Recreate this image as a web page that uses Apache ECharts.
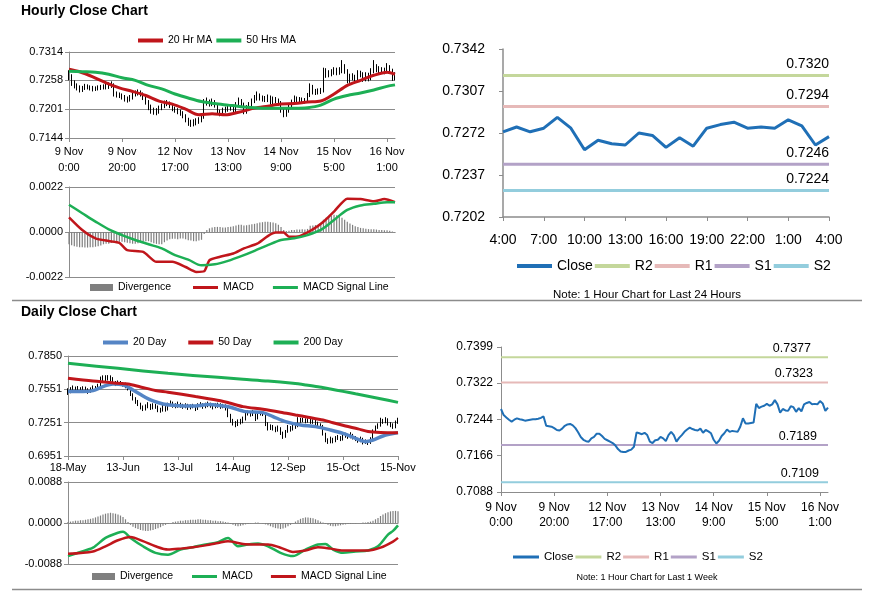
<!DOCTYPE html>
<html><head><meta charset="utf-8">
<script src="https://cdn.jsdelivr.net/npm/echarts@6/dist/echarts.min.js"></script>
<style>html,body{margin:0;padding:0;background:#fff}#c{width:873px;height:601px}</style>
</head><body><div id="c"></div>
<script>
// ---------------- DATA ----------------
// Hourly (1 week) data: 9 Nov 0:00 .. 16 Nov 4:00
const hourTickLabels = ['9 Nov\n0:00','9 Nov\n20:00','12 Nov\n17:00','13 Nov\n13:00','14 Nov\n9:00','15 Nov\n5:00','16 Nov\n1:00'];
const last24Labels = ['4:00','5:00','6:00','7:00','8:00','9:00','10:00','11:00','12:00','13:00','14:00','15:00','16:00','17:00','18:00','19:00','20:00','21:00','22:00','23:00','0:00','1:00','2:00','3:00','4:00'];
const hourlyFirstOpen = 0.7270;
const hourlyClose = [0.7266,0.7253,0.7248,0.7243,0.7239,0.7243,0.7246,0.7244,0.7243,0.7241,
0.7242,0.7243,0.7244,0.7244,0.7245,0.7247,0.7250,0.7230,0.7229,0.7228,
0.7225,0.7221,0.7220,0.7224,0.7230,0.7233,0.7234,0.7231,0.7225,0.7216,
0.7206,0.7200,0.7197,0.7196,0.7203,0.7206,0.7213,0.7213,0.7208,0.7202,
0.7199,0.7196,0.7193,0.7188,0.7180,0.7175,0.7174,0.7174,0.7177,0.7179,
0.7185,0.7216,0.7214,0.7212,0.7215,0.7210,0.7196,0.7193,0.7199,0.7200,
0.7206,0.7203,0.7197,0.7210,0.7217,0.7210,0.7196,0.7204,0.7210,0.7217,
0.7222,0.7226,0.7223,0.7221,0.7220,0.7224,0.7215,0.7221,0.7218,0.7214,
0.7200,0.7192,0.7198,0.7208,0.7214,0.7222,0.7217,0.7219,0.7218,0.7217,
0.7228,0.7246,0.7235,0.7235,0.7236,0.7237,0.7277,0.7268,0.7271,0.7273,
0.7277,0.7273,0.7276,0.7285,0.7276,0.7258,0.7266,0.7263,0.7262,0.7272,
0.7270,0.7260,0.7268,0.7261,0.7276,0.7279,0.7281,0.7276,0.7277,0.7276,
0.7283,0.7278,0.7262,0.7269];
const hourlyHigh = [0.7278,0.7270,0.7258,0.7252,0.7248,0.7247,0.7251,0.7250,0.7248,0.7247,
0.7246,0.7248,0.7249,0.7250,0.7251,0.7254,0.7256,0.7252,0.7236,0.7234,
0.7232,0.7229,0.7226,0.7229,0.7235,0.7238,0.7240,0.7238,0.7234,0.7228,
0.7219,0.7210,0.7204,0.7203,0.7208,0.7212,0.7218,0.7219,0.7216,0.7211,
0.7206,0.7203,0.7200,0.7197,0.7191,0.7184,0.7180,0.7181,0.7183,0.7185,
0.7190,0.7221,0.7224,0.7220,0.7222,0.7219,0.7213,0.7200,0.7204,0.7206,
0.7211,0.7210,0.7207,0.7215,0.7224,0.7221,0.7214,0.7209,0.7215,0.7222,
0.7229,0.7236,0.7232,0.7228,0.7227,0.7230,0.7228,0.7226,0.7225,0.7222,
0.7217,0.7204,0.7203,0.7213,0.7220,0.7228,0.7226,0.7225,0.7224,0.7223,
0.7233,0.7252,0.7249,0.7241,0.7242,0.7243,0.7283,0.7282,0.7278,0.7280,
0.7284,0.7283,0.7284,0.7298,0.7290,0.7280,0.7271,0.7272,0.7269,0.7278,
0.7277,0.7274,0.7274,0.7273,0.7282,0.7298,0.7290,0.7286,0.7284,0.7283,
0.7292,0.7288,0.7281,0.7274];
const hourlyLow = [0.7258,0.7247,0.7242,0.7238,0.7234,0.7235,0.7239,0.7240,0.7238,0.7236,
0.7237,0.7238,0.7239,0.7240,0.7240,0.7241,0.7243,0.7226,0.7224,0.7223,
0.7220,0.7216,0.7214,0.7216,0.7220,0.7226,0.7228,0.7226,0.7219,0.7210,
0.7199,0.7192,0.7190,0.7189,0.7192,0.7199,0.7203,0.7207,0.7203,0.7197,
0.7194,0.7191,0.7188,0.7183,0.7175,0.7168,0.7166,0.7167,0.7169,0.7172,
0.7175,0.7182,0.7208,0.7206,0.7207,0.7204,0.7191,0.7187,0.7189,0.7194,
0.7196,0.7198,0.7192,0.7194,0.7206,0.7205,0.7191,0.7192,0.7200,0.7206,
0.7213,0.7218,0.7218,0.7216,0.7215,0.7215,0.7210,0.7211,0.7213,0.7208,
0.7194,0.7185,0.7186,0.7194,0.7204,0.7210,0.7212,0.7213,0.7213,0.7212,
0.7214,0.7225,0.7230,0.7229,0.7230,0.7231,0.7234,0.7263,0.7264,0.7266,
0.7269,0.7268,0.7269,0.7272,0.7271,0.7252,0.7253,0.7258,0.7256,0.7258,
0.7264,0.7255,0.7256,0.7256,0.7258,0.7272,0.7274,0.7271,0.7271,0.7270,
0.7272,0.7272,0.7257,0.7258];
// [hour index, value]
const hourlyMA20 = [[0,0.7280],[4,0.7275],[9,0.7265],[14,0.7253],[19,0.7243],[24,0.7236],[29,0.7228],[34,0.7217],[39,0.7211],[44,0.7201],[49,0.7190],[54,0.7192],[59,0.7190],[64,0.7195],[70,0.7203],[75,0.7207],[80,0.7211],[85,0.7212],[90,0.7215],[95,0.7217],[100,0.7231],[105,0.7248],[110,0.7258],[115,0.7268],[120,0.7274],[123,0.7270]];
const hourlyMA50 = [[0,0.7276],[5,0.7275],[10,0.7274],[15,0.7270],[20,0.7263],[25,0.7258],[30,0.7248],[35,0.7241],[40,0.7231],[45,0.7223],[50,0.7216],[55,0.7212],[60,0.7209],[65,0.7206],[70,0.7204],[75,0.7203],[80,0.7203],[85,0.7203],[90,0.7204],[95,0.7209],[100,0.7221],[105,0.7228],[110,0.7233],[115,0.7239],[120,0.7246],[123,0.7249]];
const hourlyMACD = [[0,0.00072],[5,0.00010],[10,-0.00031],[15,-0.00044],[19,-0.00053],[22,-0.00089],[28,-0.00097],[33,-0.00146],[39,-0.00146],[44,-0.00171],[48,-0.00195],[51,-0.00192],[53,-0.00138],[57,-0.00121],[62,-0.00105],[66,-0.00080],[71,-0.00057],[75,-0.00020],[78,-0.00003],[81,-0.00003],[83,-0.00023],[87,-0.00020],[92,0.00013],[96,0.00050],[100,0.00100],[105,0.00163],[110,0.00161],[115,0.00150],[119,0.00161],[123,0.00146]];
const hourlySignal = [[0,0.00133],[5,0.00092],[10,0.00051],[15,0.00013],[20,-0.00015],[25,-0.00039],[30,-0.00060],[35,-0.00080],[40,-0.00113],[45,-0.00135],[50,-0.00163],[55,-0.00158],[60,-0.00141],[65,-0.00118],[70,-0.00092],[75,-0.00064],[80,-0.00039],[85,-0.00031],[90,-0.00015],[95,0.00010],[100,0.00059],[105,0.00108],[110,0.00130],[115,0.00138],[120,0.00146],[123,0.00146]];
const hourlyDiv = [-0.0006,-0.00065,-0.0007,-0.00072,-0.00074,-0.00075,-0.00076,-0.00076,-0.00075,-0.00074,
-0.00072,-0.0007,-0.00066,-0.0006,-0.00058,-0.00057,-0.00053,-0.0005,-0.0005,-0.00048,
-0.00048,-0.0005,-0.00053,-0.00055,-0.00057,-0.00058,-0.00055,-0.0005,-0.00046,-0.00045,
-0.00045,-0.0005,-0.00055,-0.00058,-0.0006,-0.0006,-0.0005,-0.00042,-0.00035,-0.00033,
-0.00033,-0.00035,-0.00032,-0.00032,-0.00035,-0.0004,-0.00042,-0.00045,-0.00045,-0.00042,
-0.00038,-0.0001,0.0001,0.00018,0.00022,0.00025,0.00025,0.00024,0.00022,0.00022,
0.00025,0.00026,0.00028,0.00032,0.00035,0.00036,0.00032,0.00033,0.00036,0.00038,
0.0004,0.00043,0.00046,0.00048,0.0005,0.0005,0.00048,0.00046,0.00043,0.00035,
0.00025,0.0001,0.00005,0.00006,0.0001,0.0001,0.00012,0.00012,0.00013,0.00012,
0.00015,0.0003,0.00032,0.00034,0.00036,0.00038,0.0006,0.0007,0.00078,0.0008,
0.00084,0.00082,0.00077,0.0007,0.0006,0.0005,0.00042,0.00035,0.00028,0.00025,
0.0002,0.00018,0.00016,0.00014,0.00014,0.00013,0.00012,0.0001,0.0001,0.00009,
0.00008,0.00006,0.00002,-0.00002];
const last24Close = [0.7273,0.7277,0.7273,0.7276,0.7285,0.7276,0.7258,0.7266,0.7263,0.7262,0.7272,0.7270,0.7260,0.7268,0.7261,0.7276,0.7279,0.7281,0.7276,0.7277,0.7276,0.7283,0.7278,0.7262,0.7269];
const levels24 = {R2:0.7320, R1:0.7294, S1:0.7246, S2:0.7224};
const levelsWeek = {R2:0.7377, R1:0.7323, S1:0.7189, S2:0.7109};

// Daily data: 18 May .. 15 Nov
const dayTickLabels = ['18-May','13-Jun','13-Jul','14-Aug','12-Sep','15-Oct','15-Nov'];
const dailyFirstOpen = 0.7540;
const dailyClose = [0.7525,0.7548,0.7560,0.7545,0.7552,0.7538,0.7555,0.7548,0.7530,0.7545,
0.7560,0.7552,0.7575,0.7640,0.7655,0.7645,0.7660,0.7650,0.7605,0.7598,
0.7610,0.7595,0.7592,0.7580,0.7560,0.7505,0.7470,0.7440,0.7420,0.7385,
0.7375,0.7395,0.7410,0.7380,0.7405,0.7395,0.7365,0.7360,0.7390,0.7370,
0.7410,0.7425,0.7405,0.7398,0.7415,0.7402,0.7398,0.7405,0.7388,0.7395,
0.7400,0.7378,0.7402,0.7410,0.7395,0.7405,0.7415,0.7400,0.7392,0.7402,
0.7408,0.7395,0.7400,0.7380,0.7320,0.7270,0.7245,0.7230,0.7260,0.7255,
0.7280,0.7330,0.7340,0.7325,0.7345,0.7290,0.7330,0.7338,0.7330,0.7240,
0.7195,0.7215,0.7200,0.7185,0.7205,0.7160,0.7130,0.7170,0.7210,0.7190,
0.7225,0.7215,0.7280,0.7265,0.7275,0.7262,0.7270,0.7255,0.7265,0.7245,
0.7230,0.7225,0.7150,0.7095,0.7080,0.7105,0.7085,0.7110,0.7120,0.7100,
0.7130,0.7140,0.7125,0.7145,0.7120,0.7105,0.7090,0.7110,0.7075,0.7085,
0.7070,0.7100,0.7175,0.7205,0.7225,0.7270,0.7255,0.7280,0.7240,0.7230,
0.7210,0.7250,0.7275];
const dailyHigh = [0.7560,0.7570,0.7585,0.7575,0.7580,0.7570,0.7578,0.7575,0.7560,0.7568,
0.7585,0.7580,0.7600,0.7665,0.7676,0.7677,0.7678,0.7676,0.7660,0.7625,
0.7630,0.7625,0.7615,0.7610,0.7590,0.7565,0.7515,0.7480,0.7455,0.7430,
0.7405,0.7415,0.7435,0.7420,0.7425,0.7420,0.7405,0.7385,0.7410,0.7400,
0.7430,0.7450,0.7440,0.7425,0.7440,0.7430,0.7420,0.7425,0.7420,0.7415,
0.7420,0.7410,0.7425,0.7435,0.7425,0.7430,0.7440,0.7430,0.7420,0.7425,
0.7430,0.7425,0.7420,0.7415,0.7390,0.7330,0.7285,0.7265,0.7280,0.7285,
0.7305,0.7350,0.7360,0.7355,0.7365,0.7355,0.7345,0.7355,0.7350,0.7335,
0.7255,0.7235,0.7230,0.7215,0.7225,0.7210,0.7170,0.7185,0.7230,0.7220,
0.7240,0.7240,0.7300,0.7295,0.7295,0.7290,0.7290,0.7285,0.7280,0.7275,
0.7260,0.7245,0.7230,0.7160,0.7110,0.7125,0.7115,0.7130,0.7140,0.7130,
0.7150,0.7160,0.7150,0.7165,0.7150,0.7130,0.7115,0.7125,0.7115,0.7100,
0.7095,0.7120,0.7190,0.7225,0.7245,0.7295,0.7285,0.7300,0.7290,0.7255,
0.7245,0.7270,0.7295];
const dailyLow = [0.7500,0.7515,0.7535,0.7530,0.7530,0.7520,0.7525,0.7530,0.7510,0.7520,
0.7535,0.7535,0.7545,0.7570,0.7625,0.7625,0.7630,0.7620,0.7590,0.7580,
0.7585,0.7580,0.7575,0.7560,0.7540,0.7490,0.7450,0.7420,0.7400,0.7370,
0.7355,0.7360,0.7380,0.7365,0.7370,0.7375,0.7345,0.7340,0.7350,0.7350,
0.7360,0.7400,0.7385,0.7380,0.7385,0.7385,0.7375,0.7380,0.7365,0.7370,
0.7380,0.7355,0.7365,0.7390,0.7375,0.7380,0.7390,0.7385,0.7370,0.7380,
0.7385,0.7375,0.7380,0.7360,0.7300,0.7250,0.7225,0.7210,0.7220,0.7235,
0.7245,0.7270,0.7315,0.7305,0.7310,0.7265,0.7280,0.7315,0.7310,0.7220,
0.7180,0.7185,0.7180,0.7165,0.7170,0.7140,0.7105,0.7115,0.7160,0.7170,
0.7180,0.7195,0.7210,0.7250,0.7255,0.7245,0.7250,0.7240,0.7240,0.7230,
0.7215,0.7205,0.7135,0.7075,0.7060,0.7065,0.7065,0.7075,0.7095,0.7085,
0.7090,0.7115,0.7105,0.7110,0.7100,0.7085,0.7070,0.7075,0.7055,0.7060,
0.7050,0.7060,0.7090,0.7160,0.7195,0.7215,0.7240,0.7245,0.7225,0.7210,
0.7195,0.7200,0.7240];
const dailyMA20 = [[0,0.7530],[6,0.7530],[10,0.7539],[14,0.7575],[18,0.7599],[22,0.7590],[26,0.7545],[30,0.7491],[34,0.7446],[38,0.7419],[42,0.7407],[46,0.7401],[51,0.7401],[56,0.7413],[62,0.7401],[65,0.7389],[71,0.7350],[78,0.7341],[82,0.7305],[87,0.7260],[93,0.7230],[99,0.7215],[105,0.7185],[110,0.7155],[115,0.7110],[119,0.7080],[122,0.7095],[126,0.7131],[132,0.7161]];
const dailyMA50 = [[0,0.7650],[10,0.7625],[20,0.7605],[24,0.7598],[29,0.7572],[35,0.7540],[40,0.7525],[51,0.7485],[61,0.7448],[65,0.7425],[70,0.7395],[78,0.7371],[85,0.7345],[91,0.7320],[96,0.7300],[102,0.7275],[106,0.7250],[111,0.7221],[116,0.7195],[120,0.7172],[125,0.7163],[132,0.7160]];
const dailyMA200 = [[0,0.7784],[20,0.7739],[40,0.7694],[60,0.7658],[70,0.7641],[80,0.7625],[90,0.7604],[95,0.7590],[100,0.7574],[105,0.7553],[110,0.7532],[115,0.7510],[120,0.7488],[125,0.7466],[132,0.7433]];
const dailyMACD = [[0,-0.0071],[5,-0.0062],[10,-0.0053],[15,-0.0032],[20,-0.0021],[22,-0.0019],[25,-0.0032],[30,-0.0050],[35,-0.0064],[40,-0.0068],[45,-0.0057],[50,-0.0052],[55,-0.0046],[60,-0.0041],[64,-0.0032],[68,-0.0050],[72,-0.0046],[76,-0.0044],[80,-0.0050],[85,-0.0064],[90,-0.0071],[95,-0.0057],[100,-0.0046],[103,-0.0045],[106,-0.0057],[110,-0.0064],[115,-0.0061],[120,-0.0059],[124,-0.0050],[128,-0.0025],[130,-0.0017],[132,-0.0005]];
const dailySignal = [[0,-0.0066],[10,-0.0061],[15,-0.0050],[20,-0.0037],[25,-0.0030],[30,-0.0039],[35,-0.0050],[40,-0.0057],[45,-0.0055],[50,-0.0052],[55,-0.0048],[60,-0.0043],[64,-0.0039],[70,-0.0045],[75,-0.0046],[80,-0.0046],[85,-0.0053],[90,-0.0062],[95,-0.0059],[100,-0.0052],[105,-0.0055],[110,-0.0059],[115,-0.0059],[120,-0.0059],[125,-0.0053],[130,-0.0040],[132,-0.0032]];
const dailyDiv = [0.0002,0.0003,0.0004,0.0005,0.0005,0.0006,0.0006,0.0007,0.0008,0.0009,
0.0010,0.0012,0.0014,0.0016,0.0018,0.0020,0.0021,0.0022,0.0021,0.0020,
0.0018,0.0016,0.0013,0.0008,0.0002,
-0.0004,-0.0008,-0.0011,-0.0013,-0.0015,-0.0016,-0.0017,-0.0017,-0.0016,-0.0015,
-0.0013,-0.0011,-0.0009,-0.0006,-0.0004,-0.0002,0.0000,0.0002,0.0003,0.0004,
0.0005,0.0005,0.0006,0.0006,0.0007,0.0007,0.0007,0.0008,0.0008,0.0007,
0.0007,0.0006,0.0006,0.0005,0.0005,0.0004,0.0004,0.0003,0.0002,0.0001,
-0.0002,-0.0004,-0.0006,-0.0007,-0.0006,-0.0005,-0.0003,-0.0002,-0.0001,0.0000,
0.0001,0.0001,0.0000,-0.0001,-0.0003,-0.0005,-0.0007,-0.0009,-0.0011,-0.0012,
-0.0013,-0.0012,-0.0010,-0.0007,-0.0004,-0.0001,0.0003,0.0006,0.0009,0.0011,
0.0012,0.0012,0.0011,0.0010,0.0008,0.0006,0.0003,0.0001,-0.0002,-0.0004,
-0.0006,-0.0007,-0.0007,-0.0006,-0.0005,-0.0004,-0.0003,-0.0002,-0.0002,-0.0001,
-0.0001,0.0000,0.0000,0.0001,0.0001,0.0002,0.0003,0.0005,0.0008,0.0011,
0.0015,0.0018,0.0021,0.0023,0.0025,0.0026,0.0026,0.0025];

// Axis tick labels
const yTicksHourly = ['0.7144','0.7201','0.7258','0.7314'];
const yTicksHourlyMACD = ['-0.0022','0.0000','0.0022'];
const yTicks24 = ['0.7202','0.7237','0.7272','0.7307','0.7342'];
const yTicksDaily = ['0.6951','0.7251','0.7551','0.7850'];
const yTicksDailyMACD = ['-0.0088','0.0000','0.0088'];
const yTicksWeek = ['0.7088','0.7166','0.7244','0.7322','0.7399'];

// ---------------- CHART ----------------
const FONT = '"Liberation Sans", Arial, sans-serif';
const GRAY = '#8C8C8C';
const strip = n => n.replace(/_.*$/, '');
const hourIdx = hourlyClose.map((v, i) => String(i));
const dayIdx = dailyClose.map((v, i) => String(i));
const idx24 = last24Close.map((v, i) => String(i));

function ohlc(close, high, low, firstOpen) {
  return close.map((c, i) => [i === 0 ? firstOpen : close[i - 1], c, low[i], high[i]]);
}
function catAxis(gridIndex, data, lab, tickInt, extra) {
  const ax = {
    type: 'category', gridIndex, data, boundaryGap: false,
    axisLine: {show: true, onZero: true, lineStyle: {color: GRAY, width: 1}},
    axisTick: {show: !!lab, interval: tickInt, length: 4, inside: false, lineStyle: {color: GRAY}},
    axisLabel: lab ? Object.assign({show: true, interval: tickInt, color: '#000', fontFamily: FONT}, lab) : {show: false},
    splitLine: {show: false}
  };
  return Object.assign(ax, extra || {});
}
function valAxis(gridIndex, labels, fontSize, margin, split, extra) {
  const vals = labels.map(Number);
  const ax = {
    type: 'value', gridIndex, min: vals[0], max: vals[vals.length - 1],
    axisLine: {show: true, lineStyle: {color: GRAY, width: 1}},
    axisTick: {show: true, customValues: vals, length: 4, lineStyle: {color: GRAY}},
    axisLabel: {show: true, customValues: vals, color: '#000', fontSize, margin, fontFamily: FONT,
      formatter: v => { let best = 0; vals.forEach((t, k) => { if (Math.abs(t - v) < Math.abs(vals[best] - v)) best = k; }); return labels[best]; }},
    splitLine: {show: split, lineStyle: {color: GRAY, width: 1}}
  };
  return Object.assign(ax, extra || {});
}
function lineS(name, xi, data, color, width, smooth) {
  return {name, type: 'line', xAxisIndex: xi, yAxisIndex: xi, data, symbol: 'none', smooth: smooth === undefined ? 0.3 : smooth,
    lineStyle: {color, width}, itemStyle: {color}, silent: true, z: 3};
}
// horizontal level line from first to last category, with its value written above the right end
function levelS(name, xi, lastIdx, value, color, width, fontSize, dx, dist) {
  return {name, type: 'line', xAxisIndex: xi, yAxisIndex: xi, symbol: 'circle', symbolSize: 0.01, showSymbol: true,
    lineStyle: {color, width}, itemStyle: {color}, silent: true, z: 2,
    label: {show: false},
    data: [[0, value], {value: [lastIdx, value], label: {show: true, position: 'top', align: 'right', distance: dist,
      offset: [dx, 0], color: '#000', fontSize, fontFamily: FONT, formatter: value.toFixed(4)}}]};
}
function barS(name, xi, data) {
  return {name, type: 'bar', xAxisIndex: xi, yAxisIndex: xi, data, barWidth: 1.2, silent: true,
    itemStyle: {color: '#7F7F7F'}, z: 2};
}
function candleS(name, xi, data) {
  return {name, type: 'candlestick', xAxisIndex: xi, yAxisIndex: xi, data, barWidth: 1, silent: true,
    itemStyle: {color: '#000', color0: '#000', borderColor: '#000', borderColor0: '#000', borderWidth: 1}, z: 2};
}
function legend(data, left, top, iw, ih, gap, fs) {
  return {data, left, top, padding: 0, icon: 'rect', itemWidth: iw, itemHeight: ih, itemGap: gap,
    selectedMode: false, formatter: strip, textStyle: {color: '#000', fontSize: fs, fontFamily: FONT}};
}

const hourLab = {formatter: (v) => hourTickLabels[Number(v) / 20] || '', fontSize: 11, lineHeight: 16, margin: 6};
const weekLab = {formatter: (v) => hourTickLabels[Number(v) / 20] || '', fontSize: 12, lineHeight: 15, margin: 8};
const dayLab = {formatter: (v) => dayTickLabels[Number(v) / 22] || '', fontSize: 11, margin: 6};
const lab24 = {formatter: (v) => last24Labels[Number(v)], fontSize: 14, margin: 16};

const CL = {R2: '#C4D79B', R1: '#E6B9B8', S1: '#B3A2C7', S2: '#93CDDD'};
const BLUE = '#1F6FB6', RED = '#C0161B', GREEN = '#1DAF55', LBLUE = '#5585C5';

const option = {
  animation: false,
  backgroundColor: '#fff',
  textStyle: {fontFamily: FONT},
  title: [
    {text: 'Hourly Close Chart', left: 21, top: 4, padding: 0, textStyle: {fontSize: 14, fontWeight: 'bold', color: '#000', fontFamily: FONT}},
    {text: 'Daily Close Chart', left: 21, top: 305, padding: 0, textStyle: {fontSize: 14, fontWeight: 'bold', color: '#000', fontFamily: FONT}}
  ],
  grid: [
    {left: 69, top: 52, width: 326, height: 86, outerBoundsMode: 'none'},
    {left: 69, top: 187, width: 326, height: 90, outerBoundsMode: 'none'},
    {left: 503, top: 49, width: 326, height: 168, outerBoundsMode: 'none'},
    {left: 68, top: 356, width: 330, height: 100, outerBoundsMode: 'none'},
    {left: 68, top: 482, width: 330, height: 82, outerBoundsMode: 'none'},
    {left: 501, top: 347, width: 327, height: 145, outerBoundsMode: 'none'}
  ],
  xAxis: [
    catAxis(0, hourIdx, hourLab, 19),
    catAxis(1, hourIdx, null, 19),
    catAxis(2, idx24, lab24, 2, {axisLine: {show: true, lineStyle: {color: GRAY, width: 1.5}}}),
    catAxis(3, dayIdx, dayLab, 21),
    catAxis(4, dayIdx, null, 21),
    catAxis(5, hourIdx, weekLab, 19)
  ],
  yAxis: [
    valAxis(0, yTicksHourly, 11, 6, true),
    valAxis(1, yTicksHourlyMACD, 11, 6, true),
    valAxis(2, yTicks24, 14, 18, false, {axisLine: {show: true, lineStyle: {color: GRAY, width: 1.5}}}),
    valAxis(3, yTicksDaily, 11, 6, true),
    valAxis(4, yTicksDailyMACD, 11, 6, true),
    valAxis(5, yTicksWeek, 12, 8, false)
  ],
  legend: [
    legend(['20 Hr MA', '50 Hrs MA'], 138, 35, 25, 4, 4, 10.5),
    legend(['Divergence_h'], 90, 282, 23, 7, 10, 10.5),
    legend(['MACD_h', 'MACD Signal Line_h'], 193, 282, 25, 3, 19, 10.5),
    legend(['Close_c', 'R2_c', 'R1_c', 'S1_c', 'S2_c'], 517, 259, 35, 4, 2, 14),
    legend(['20 Day', '50 Day', '200 Day'], 103, 337, 25, 4, 22, 10.5),
    legend(['Divergence_d'], 92, 571, 23, 7, 10, 10.5),
    legend(['MACD_d', 'MACD Signal Line_d'], 192, 571, 25, 3, 18, 10.5),
    legend(['Close_f', 'R2_f', 'R1_f', 'S1_f', 'S2_f'], 513, 551, 26, 3, 2, 11.5)
  ],
  graphic: [
    {type: 'line', shape: {x1: 12, y1: 300.5, x2: 862, y2: 300.5}, style: {stroke: GRAY, lineWidth: 1.5}, silent: true},
    {type: 'line', shape: {x1: 12, y1: 589.5, x2: 862, y2: 589.5}, style: {stroke: GRAY, lineWidth: 1.5}, silent: true},
    {type: 'text', x: 647, y: 295, silent: true, style: {text: 'Note: 1 Hour Chart for Last 24 Hours', fontSize: 11.5, fontFamily: FONT, fill: '#000', align: 'center', verticalAlign: 'middle', textAlign: 'center', textVerticalAlign: 'middle'}},
    {type: 'text', x: 647, y: 578, silent: true, style: {text: 'Note: 1 Hour Chart for Last 1 Week', fontSize: 9, fontFamily: FONT, fill: '#000', align: 'center', verticalAlign: 'middle', textAlign: 'center', textVerticalAlign: 'middle'}}
  ],
  series: [
    candleS('hourlyBars', 0, ohlc(hourlyClose, hourlyHigh, hourlyLow, hourlyFirstOpen)),
    lineS('20 Hr MA', 0, hourlyMA20, RED, 3),
    lineS('50 Hrs MA', 0, hourlyMA50, GREEN, 3),

    barS('Divergence_h', 1, hourlyDiv),
    lineS('MACD_h', 1, hourlyMACD, RED, 2.5, 0.2),
    lineS('MACD Signal Line_h', 1, hourlySignal, GREEN, 2.5),

    levelS('R2_c', 2, 24, levels24.R2, CL.R2, 3, 14, 0, 4),
    levelS('R1_c', 2, 24, levels24.R1, CL.R1, 3, 14, 0, 4),
    levelS('S1_c', 2, 24, levels24.S1, CL.S1, 3, 14, 0, 4),
    levelS('S2_c', 2, 24, levels24.S2, CL.S2, 3, 14, 0, 4),
    lineS('Close_c', 2, last24Close, BLUE, 3, false),

    candleS('dailyBars', 3, ohlc(dailyClose, dailyHigh, dailyLow, dailyFirstOpen)),
    lineS('20 Day', 3, dailyMA20, LBLUE, 3.5),
    lineS('50 Day', 3, dailyMA50, RED, 3),
    lineS('200 Day', 3, dailyMA200, GREEN, 3),

    barS('Divergence_d', 4, dailyDiv),
    lineS('MACD_d', 4, dailyMACD, GREEN, 2.5),
    lineS('MACD Signal Line_d', 4, dailySignal, RED, 2.5),

    levelS('R2_f', 5, 123, levelsWeek.R2, CL.R2, 2, 12.5, -17, 2),
    levelS('R1_f', 5, 123, levelsWeek.R1, CL.R1, 2, 12.5, -15, 2),
    levelS('S1_f', 5, 123, levelsWeek.S1, CL.S1, 2, 12.5, -11, 2),
    levelS('S2_f', 5, 123, levelsWeek.S2, CL.S2, 2, 12.5, -9, 2),
    lineS('Close_f', 5, hourlyClose, BLUE, 2, false)
  ]
};
const chart = echarts.init(document.getElementById('c'), null, {renderer: 'canvas'});
chart.setOption(option);
</script></body></html>
